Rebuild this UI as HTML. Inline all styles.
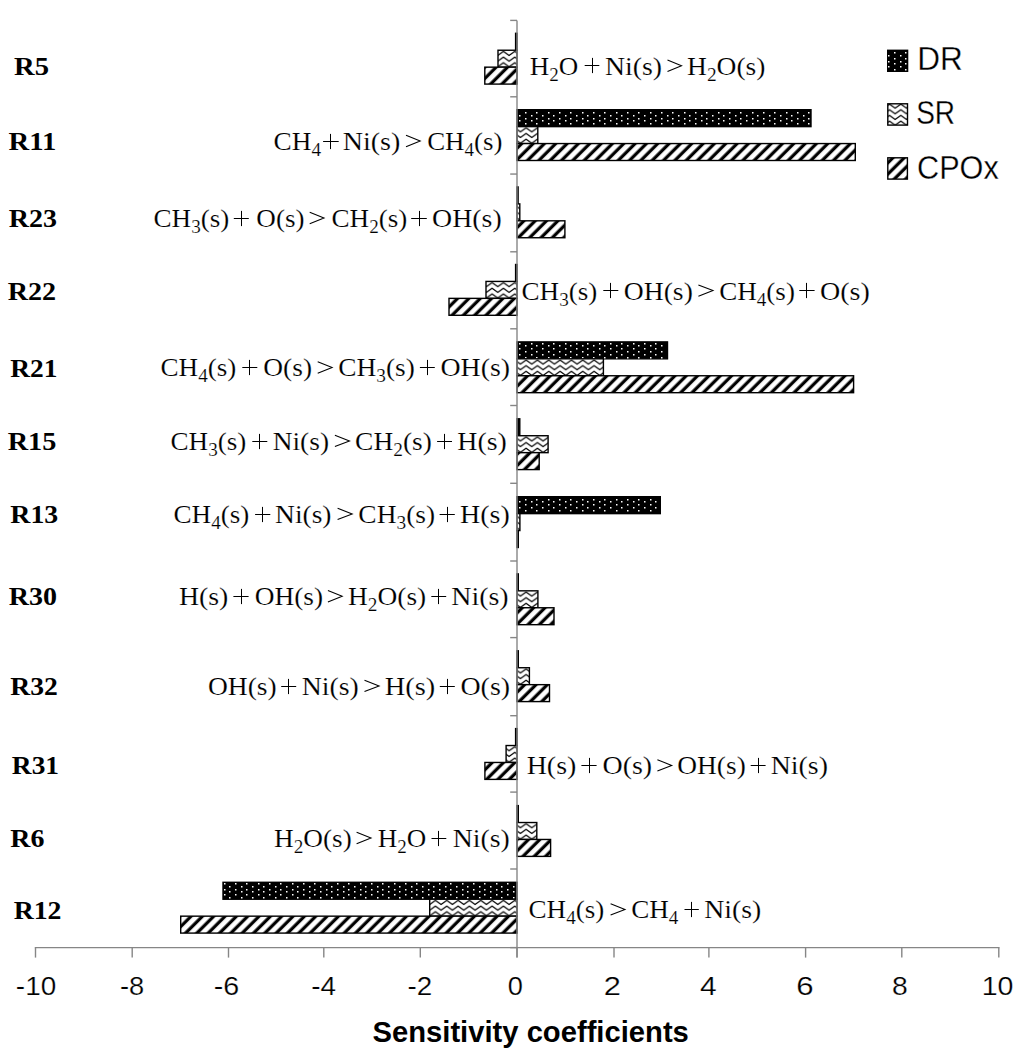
<!DOCTYPE html><html><head><meta charset="utf-8"><style>html,body{margin:0;padding:0;background:#fff;width:1024px;height:1058px;overflow:hidden}svg{display:block}.eq{font-family:"Liberation Serif",serif;font-size:25.5px;fill:#000;stroke:#fff;stroke-width:0.15px}.lb{font-family:"Liberation Serif",serif;font-weight:bold;font-size:25.5px;fill:#000}.tk{font-family:"Liberation Sans",sans-serif;font-size:25.2px;fill:#000;stroke:#fff;stroke-width:0.2px}.tt{font-family:"Liberation Sans",sans-serif;font-weight:bold;font-size:28.6px;fill:#000}.lg{font-family:"Liberation Sans",sans-serif;font-size:33.7px;fill:#000;stroke:#fff;stroke-width:0.3px}</style></head><body><svg width="1024" height="1058" viewBox="0 0 1024 1058"><defs><pattern id="pg" patternUnits="userSpaceOnUse" width="8.0139" height="40" patternTransform="rotate(45)"><rect width="8.0139" height="40" fill="#fff"/><rect x="4.032" width="3.250" height="40" fill="#000"/><rect x="-3.982" width="3.250" height="40" fill="#000"/><rect x="12.046" width="3.250" height="40" fill="#000"/></pattern></defs><rect x="515.60" y="33.30" width="1.40" height="16.93" fill="#000" stroke="#000" stroke-width="1.4"/><pattern id="pz0" patternUnits="userSpaceOnUse" x="-40.565" y="51.230" width="11.3333" height="5.6666"><rect width="11.3333" height="5.6666" fill="#fff"/><polyline points="-0.300,-5.667 5.667,-1.367 11.633,-5.667" fill="none" stroke="#000" stroke-width="1.25" stroke-linejoin="round"/><polyline points="-0.300,0.000 5.667,4.300 11.633,0.000" fill="none" stroke="#000" stroke-width="1.25" stroke-linejoin="round"/><polyline points="-0.300,5.667 5.667,9.967 11.633,5.667" fill="none" stroke="#000" stroke-width="1.25" stroke-linejoin="round"/></pattern><rect x="498.00" y="50.23" width="19.00" height="16.93" fill="url(#pz0)" stroke="#000" stroke-width="1.4"/><rect x="484.80" y="67.16" width="32.20" height="16.93" fill="url(#pg)" stroke="#000" stroke-width="1.4"/><rect x="517.00" y="109.70" width="294.00" height="16.93" fill="#000" stroke="#000" stroke-width="1.4"/><path d="M525 112h1.5v1.5h-1.5zM536 112h1.5v1.5h-1.5zM548 112h1.5v1.5h-1.5zM559 112h1.5v1.5h-1.5zM570 112h1.5v1.5h-1.5zM582 112h1.5v1.5h-1.5zM593 112h1.5v1.5h-1.5zM604 112h1.5v1.5h-1.5zM616 112h1.5v1.5h-1.5zM627 112h1.5v1.5h-1.5zM638 112h1.5v1.5h-1.5zM650 112h1.5v1.5h-1.5zM661 112h1.5v1.5h-1.5zM672 112h1.5v1.5h-1.5zM684 112h1.5v1.5h-1.5zM695 112h1.5v1.5h-1.5zM706 112h1.5v1.5h-1.5zM718 112h1.5v1.5h-1.5zM729 112h1.5v1.5h-1.5zM740 112h1.5v1.5h-1.5zM752 112h1.5v1.5h-1.5zM763 112h1.5v1.5h-1.5zM774 112h1.5v1.5h-1.5zM786 112h1.5v1.5h-1.5zM797 112h1.5v1.5h-1.5zM808 112h1.5v1.5h-1.5zM519 115h1.5v1.5h-1.5zM531 115h1.5v1.5h-1.5zM542 115h1.5v1.5h-1.5zM553 115h1.5v1.5h-1.5zM565 115h1.5v1.5h-1.5zM576 115h1.5v1.5h-1.5zM587 115h1.5v1.5h-1.5zM599 115h1.5v1.5h-1.5zM610 115h1.5v1.5h-1.5zM621 115h1.5v1.5h-1.5zM633 115h1.5v1.5h-1.5zM644 115h1.5v1.5h-1.5zM655 115h1.5v1.5h-1.5zM667 115h1.5v1.5h-1.5zM678 115h1.5v1.5h-1.5zM689 115h1.5v1.5h-1.5zM701 115h1.5v1.5h-1.5zM712 115h1.5v1.5h-1.5zM723 115h1.5v1.5h-1.5zM735 115h1.5v1.5h-1.5zM746 115h1.5v1.5h-1.5zM757 115h1.5v1.5h-1.5zM769 115h1.5v1.5h-1.5zM780 115h1.5v1.5h-1.5zM791 115h1.5v1.5h-1.5zM803 115h1.5v1.5h-1.5zM525 118h1.5v1.5h-1.5zM536 118h1.5v1.5h-1.5zM548 118h1.5v1.5h-1.5zM559 118h1.5v1.5h-1.5zM570 118h1.5v1.5h-1.5zM582 118h1.5v1.5h-1.5zM593 118h1.5v1.5h-1.5zM604 118h1.5v1.5h-1.5zM616 118h1.5v1.5h-1.5zM627 118h1.5v1.5h-1.5zM638 118h1.5v1.5h-1.5zM650 118h1.5v1.5h-1.5zM661 118h1.5v1.5h-1.5zM672 118h1.5v1.5h-1.5zM684 118h1.5v1.5h-1.5zM695 118h1.5v1.5h-1.5zM706 118h1.5v1.5h-1.5zM718 118h1.5v1.5h-1.5zM729 118h1.5v1.5h-1.5zM740 118h1.5v1.5h-1.5zM752 118h1.5v1.5h-1.5zM763 118h1.5v1.5h-1.5zM774 118h1.5v1.5h-1.5zM786 118h1.5v1.5h-1.5zM797 118h1.5v1.5h-1.5zM808 118h1.5v1.5h-1.5zM519 120h1.5v1.5h-1.5zM531 120h1.5v1.5h-1.5zM542 120h1.5v1.5h-1.5zM553 120h1.5v1.5h-1.5zM565 120h1.5v1.5h-1.5zM576 120h1.5v1.5h-1.5zM587 120h1.5v1.5h-1.5zM599 120h1.5v1.5h-1.5zM610 120h1.5v1.5h-1.5zM621 120h1.5v1.5h-1.5zM633 120h1.5v1.5h-1.5zM644 120h1.5v1.5h-1.5zM655 120h1.5v1.5h-1.5zM667 120h1.5v1.5h-1.5zM678 120h1.5v1.5h-1.5zM689 120h1.5v1.5h-1.5zM701 120h1.5v1.5h-1.5zM712 120h1.5v1.5h-1.5zM723 120h1.5v1.5h-1.5zM735 120h1.5v1.5h-1.5zM746 120h1.5v1.5h-1.5zM757 120h1.5v1.5h-1.5zM769 120h1.5v1.5h-1.5zM780 120h1.5v1.5h-1.5zM791 120h1.5v1.5h-1.5zM803 120h1.5v1.5h-1.5zM525 123h1.5v1.5h-1.5zM536 123h1.5v1.5h-1.5zM548 123h1.5v1.5h-1.5zM559 123h1.5v1.5h-1.5zM570 123h1.5v1.5h-1.5zM582 123h1.5v1.5h-1.5zM593 123h1.5v1.5h-1.5zM604 123h1.5v1.5h-1.5zM616 123h1.5v1.5h-1.5zM627 123h1.5v1.5h-1.5zM638 123h1.5v1.5h-1.5zM650 123h1.5v1.5h-1.5zM661 123h1.5v1.5h-1.5zM672 123h1.5v1.5h-1.5zM684 123h1.5v1.5h-1.5zM695 123h1.5v1.5h-1.5zM706 123h1.5v1.5h-1.5zM718 123h1.5v1.5h-1.5zM729 123h1.5v1.5h-1.5zM740 123h1.5v1.5h-1.5zM752 123h1.5v1.5h-1.5zM763 123h1.5v1.5h-1.5zM774 123h1.5v1.5h-1.5zM786 123h1.5v1.5h-1.5zM797 123h1.5v1.5h-1.5zM808 123h1.5v1.5h-1.5z" fill="#fff"/><pattern id="pz1" patternUnits="userSpaceOnUse" x="-40.565" y="127.630" width="11.3333" height="5.6666"><rect width="11.3333" height="5.6666" fill="#fff"/><polyline points="-0.300,-5.667 5.667,-1.367 11.633,-5.667" fill="none" stroke="#000" stroke-width="1.25" stroke-linejoin="round"/><polyline points="-0.300,0.000 5.667,4.300 11.633,0.000" fill="none" stroke="#000" stroke-width="1.25" stroke-linejoin="round"/><polyline points="-0.300,5.667 5.667,9.967 11.633,5.667" fill="none" stroke="#000" stroke-width="1.25" stroke-linejoin="round"/></pattern><rect x="517.00" y="126.63" width="20.80" height="16.93" fill="url(#pz1)" stroke="#000" stroke-width="1.4"/><rect x="517.00" y="143.56" width="338.30" height="16.93" fill="url(#pg)" stroke="#000" stroke-width="1.4"/><rect x="517.00" y="186.95" width="1.10" height="16.93" fill="#000" stroke="#000" stroke-width="1.4"/><pattern id="pz2" patternUnits="userSpaceOnUse" x="-40.565" y="204.880" width="11.3333" height="5.6666"><rect width="11.3333" height="5.6666" fill="#fff"/><polyline points="-0.300,-5.667 5.667,-1.367 11.633,-5.667" fill="none" stroke="#000" stroke-width="1.25" stroke-linejoin="round"/><polyline points="-0.300,0.000 5.667,4.300 11.633,0.000" fill="none" stroke="#000" stroke-width="1.25" stroke-linejoin="round"/><polyline points="-0.300,5.667 5.667,9.967 11.633,5.667" fill="none" stroke="#000" stroke-width="1.25" stroke-linejoin="round"/></pattern><rect x="517.00" y="203.88" width="2.80" height="16.93" fill="url(#pz2)" stroke="#000" stroke-width="1.4"/><rect x="517.00" y="220.81" width="47.90" height="16.93" fill="url(#pg)" stroke="#000" stroke-width="1.4"/><rect x="515.60" y="264.50" width="1.40" height="16.93" fill="#000" stroke="#000" stroke-width="1.4"/><pattern id="pz3" patternUnits="userSpaceOnUse" x="-40.565" y="282.430" width="11.3333" height="5.6666"><rect width="11.3333" height="5.6666" fill="#fff"/><polyline points="-0.300,-5.667 5.667,-1.367 11.633,-5.667" fill="none" stroke="#000" stroke-width="1.25" stroke-linejoin="round"/><polyline points="-0.300,0.000 5.667,4.300 11.633,0.000" fill="none" stroke="#000" stroke-width="1.25" stroke-linejoin="round"/><polyline points="-0.300,5.667 5.667,9.967 11.633,5.667" fill="none" stroke="#000" stroke-width="1.25" stroke-linejoin="round"/></pattern><rect x="486.00" y="281.43" width="31.00" height="16.93" fill="url(#pz3)" stroke="#000" stroke-width="1.4"/><rect x="449.00" y="298.36" width="68.00" height="16.93" fill="url(#pg)" stroke="#000" stroke-width="1.4"/><rect x="517.00" y="341.90" width="150.50" height="16.93" fill="#000" stroke="#000" stroke-width="1.4"/><path d="M519 343h1.5v1.5h-1.5zM531 343h1.5v1.5h-1.5zM542 343h1.5v1.5h-1.5zM553 343h1.5v1.5h-1.5zM565 343h1.5v1.5h-1.5zM576 343h1.5v1.5h-1.5zM587 343h1.5v1.5h-1.5zM599 343h1.5v1.5h-1.5zM610 343h1.5v1.5h-1.5zM621 343h1.5v1.5h-1.5zM633 343h1.5v1.5h-1.5zM644 343h1.5v1.5h-1.5zM655 343h1.5v1.5h-1.5zM525 345h1.5v1.5h-1.5zM536 345h1.5v1.5h-1.5zM548 345h1.5v1.5h-1.5zM559 345h1.5v1.5h-1.5zM570 345h1.5v1.5h-1.5zM582 345h1.5v1.5h-1.5zM593 345h1.5v1.5h-1.5zM604 345h1.5v1.5h-1.5zM616 345h1.5v1.5h-1.5zM627 345h1.5v1.5h-1.5zM638 345h1.5v1.5h-1.5zM650 345h1.5v1.5h-1.5zM661 345h1.5v1.5h-1.5zM519 348h1.5v1.5h-1.5zM531 348h1.5v1.5h-1.5zM542 348h1.5v1.5h-1.5zM553 348h1.5v1.5h-1.5zM565 348h1.5v1.5h-1.5zM576 348h1.5v1.5h-1.5zM587 348h1.5v1.5h-1.5zM599 348h1.5v1.5h-1.5zM610 348h1.5v1.5h-1.5zM621 348h1.5v1.5h-1.5zM633 348h1.5v1.5h-1.5zM644 348h1.5v1.5h-1.5zM655 348h1.5v1.5h-1.5zM525 351h1.5v1.5h-1.5zM536 351h1.5v1.5h-1.5zM548 351h1.5v1.5h-1.5zM559 351h1.5v1.5h-1.5zM570 351h1.5v1.5h-1.5zM582 351h1.5v1.5h-1.5zM593 351h1.5v1.5h-1.5zM604 351h1.5v1.5h-1.5zM616 351h1.5v1.5h-1.5zM627 351h1.5v1.5h-1.5zM638 351h1.5v1.5h-1.5zM650 351h1.5v1.5h-1.5zM661 351h1.5v1.5h-1.5zM519 354h1.5v1.5h-1.5zM531 354h1.5v1.5h-1.5zM542 354h1.5v1.5h-1.5zM553 354h1.5v1.5h-1.5zM565 354h1.5v1.5h-1.5zM576 354h1.5v1.5h-1.5zM587 354h1.5v1.5h-1.5zM599 354h1.5v1.5h-1.5zM610 354h1.5v1.5h-1.5zM621 354h1.5v1.5h-1.5zM633 354h1.5v1.5h-1.5zM644 354h1.5v1.5h-1.5zM655 354h1.5v1.5h-1.5zM525 357h1.5v1.5h-1.5zM536 357h1.5v1.5h-1.5zM548 357h1.5v1.5h-1.5zM559 357h1.5v1.5h-1.5zM570 357h1.5v1.5h-1.5zM582 357h1.5v1.5h-1.5zM593 357h1.5v1.5h-1.5zM604 357h1.5v1.5h-1.5zM616 357h1.5v1.5h-1.5zM627 357h1.5v1.5h-1.5zM638 357h1.5v1.5h-1.5zM650 357h1.5v1.5h-1.5zM661 357h1.5v1.5h-1.5z" fill="#fff"/><pattern id="pz4" patternUnits="userSpaceOnUse" x="-40.565" y="359.830" width="11.3333" height="5.6666"><rect width="11.3333" height="5.6666" fill="#fff"/><polyline points="-0.300,-5.667 5.667,-1.367 11.633,-5.667" fill="none" stroke="#000" stroke-width="1.25" stroke-linejoin="round"/><polyline points="-0.300,0.000 5.667,4.300 11.633,0.000" fill="none" stroke="#000" stroke-width="1.25" stroke-linejoin="round"/><polyline points="-0.300,5.667 5.667,9.967 11.633,5.667" fill="none" stroke="#000" stroke-width="1.25" stroke-linejoin="round"/></pattern><rect x="517.00" y="358.83" width="86.40" height="16.93" fill="url(#pz4)" stroke="#000" stroke-width="1.4"/><rect x="517.00" y="375.76" width="336.60" height="16.93" fill="url(#pg)" stroke="#000" stroke-width="1.4"/><rect x="517.00" y="418.80" width="2.80" height="16.93" fill="#000" stroke="#000" stroke-width="1.4"/><pattern id="pz5" patternUnits="userSpaceOnUse" x="-40.565" y="436.730" width="11.3333" height="5.6666"><rect width="11.3333" height="5.6666" fill="#fff"/><polyline points="-0.300,-5.667 5.667,-1.367 11.633,-5.667" fill="none" stroke="#000" stroke-width="1.25" stroke-linejoin="round"/><polyline points="-0.300,0.000 5.667,4.300 11.633,0.000" fill="none" stroke="#000" stroke-width="1.25" stroke-linejoin="round"/><polyline points="-0.300,5.667 5.667,9.967 11.633,5.667" fill="none" stroke="#000" stroke-width="1.25" stroke-linejoin="round"/></pattern><rect x="517.00" y="435.73" width="31.10" height="16.93" fill="url(#pz5)" stroke="#000" stroke-width="1.4"/><rect x="517.00" y="452.66" width="22.20" height="16.93" fill="url(#pg)" stroke="#000" stroke-width="1.4"/><rect x="517.00" y="496.70" width="143.30" height="16.93" fill="#000" stroke="#000" stroke-width="1.4"/><path d="M525 499h1.5v1.5h-1.5zM536 499h1.5v1.5h-1.5zM548 499h1.5v1.5h-1.5zM559 499h1.5v1.5h-1.5zM570 499h1.5v1.5h-1.5zM582 499h1.5v1.5h-1.5zM593 499h1.5v1.5h-1.5zM604 499h1.5v1.5h-1.5zM616 499h1.5v1.5h-1.5zM627 499h1.5v1.5h-1.5zM638 499h1.5v1.5h-1.5zM650 499h1.5v1.5h-1.5zM519 501h1.5v1.5h-1.5zM531 501h1.5v1.5h-1.5zM542 501h1.5v1.5h-1.5zM553 501h1.5v1.5h-1.5zM565 501h1.5v1.5h-1.5zM576 501h1.5v1.5h-1.5zM587 501h1.5v1.5h-1.5zM599 501h1.5v1.5h-1.5zM610 501h1.5v1.5h-1.5zM621 501h1.5v1.5h-1.5zM633 501h1.5v1.5h-1.5zM644 501h1.5v1.5h-1.5zM655 501h1.5v1.5h-1.5zM525 504h1.5v1.5h-1.5zM536 504h1.5v1.5h-1.5zM548 504h1.5v1.5h-1.5zM559 504h1.5v1.5h-1.5zM570 504h1.5v1.5h-1.5zM582 504h1.5v1.5h-1.5zM593 504h1.5v1.5h-1.5zM604 504h1.5v1.5h-1.5zM616 504h1.5v1.5h-1.5zM627 504h1.5v1.5h-1.5zM638 504h1.5v1.5h-1.5zM650 504h1.5v1.5h-1.5zM519 507h1.5v1.5h-1.5zM531 507h1.5v1.5h-1.5zM542 507h1.5v1.5h-1.5zM553 507h1.5v1.5h-1.5zM565 507h1.5v1.5h-1.5zM576 507h1.5v1.5h-1.5zM587 507h1.5v1.5h-1.5zM599 507h1.5v1.5h-1.5zM610 507h1.5v1.5h-1.5zM621 507h1.5v1.5h-1.5zM633 507h1.5v1.5h-1.5zM644 507h1.5v1.5h-1.5zM655 507h1.5v1.5h-1.5zM525 510h1.5v1.5h-1.5zM536 510h1.5v1.5h-1.5zM548 510h1.5v1.5h-1.5zM559 510h1.5v1.5h-1.5zM570 510h1.5v1.5h-1.5zM582 510h1.5v1.5h-1.5zM593 510h1.5v1.5h-1.5zM604 510h1.5v1.5h-1.5zM616 510h1.5v1.5h-1.5zM627 510h1.5v1.5h-1.5zM638 510h1.5v1.5h-1.5zM650 510h1.5v1.5h-1.5z" fill="#fff"/><pattern id="pz6" patternUnits="userSpaceOnUse" x="-40.565" y="514.630" width="11.3333" height="5.6666"><rect width="11.3333" height="5.6666" fill="#fff"/><polyline points="-0.300,-5.667 5.667,-1.367 11.633,-5.667" fill="none" stroke="#000" stroke-width="1.25" stroke-linejoin="round"/><polyline points="-0.300,0.000 5.667,4.300 11.633,0.000" fill="none" stroke="#000" stroke-width="1.25" stroke-linejoin="round"/><polyline points="-0.300,5.667 5.667,9.967 11.633,5.667" fill="none" stroke="#000" stroke-width="1.25" stroke-linejoin="round"/></pattern><rect x="517.00" y="513.63" width="2.90" height="16.93" fill="url(#pz6)" stroke="#000" stroke-width="1.4"/><rect x="517.00" y="530.56" width="1.30" height="16.93" fill="url(#pg)" stroke="#000" stroke-width="1.4"/><rect x="517.00" y="573.90" width="1.30" height="16.93" fill="#000" stroke="#000" stroke-width="1.4"/><pattern id="pz7" patternUnits="userSpaceOnUse" x="-40.565" y="591.830" width="11.3333" height="5.6666"><rect width="11.3333" height="5.6666" fill="#fff"/><polyline points="-0.300,-5.667 5.667,-1.367 11.633,-5.667" fill="none" stroke="#000" stroke-width="1.25" stroke-linejoin="round"/><polyline points="-0.300,0.000 5.667,4.300 11.633,0.000" fill="none" stroke="#000" stroke-width="1.25" stroke-linejoin="round"/><polyline points="-0.300,5.667 5.667,9.967 11.633,5.667" fill="none" stroke="#000" stroke-width="1.25" stroke-linejoin="round"/></pattern><rect x="517.00" y="590.83" width="20.90" height="16.93" fill="url(#pz7)" stroke="#000" stroke-width="1.4"/><rect x="517.00" y="607.76" width="37.00" height="16.93" fill="url(#pg)" stroke="#000" stroke-width="1.4"/><rect x="517.00" y="650.80" width="1.30" height="16.93" fill="#000" stroke="#000" stroke-width="1.4"/><pattern id="pz8" patternUnits="userSpaceOnUse" x="-40.565" y="668.730" width="11.3333" height="5.6666"><rect width="11.3333" height="5.6666" fill="#fff"/><polyline points="-0.300,-5.667 5.667,-1.367 11.633,-5.667" fill="none" stroke="#000" stroke-width="1.25" stroke-linejoin="round"/><polyline points="-0.300,0.000 5.667,4.300 11.633,0.000" fill="none" stroke="#000" stroke-width="1.25" stroke-linejoin="round"/><polyline points="-0.300,5.667 5.667,9.967 11.633,5.667" fill="none" stroke="#000" stroke-width="1.25" stroke-linejoin="round"/></pattern><rect x="517.00" y="667.73" width="12.40" height="16.93" fill="url(#pz8)" stroke="#000" stroke-width="1.4"/><rect x="517.00" y="684.66" width="32.50" height="16.93" fill="url(#pg)" stroke="#000" stroke-width="1.4"/><rect x="515.60" y="728.60" width="1.40" height="16.93" fill="#000" stroke="#000" stroke-width="1.4"/><pattern id="pz9" patternUnits="userSpaceOnUse" x="-40.565" y="746.530" width="11.3333" height="5.6666"><rect width="11.3333" height="5.6666" fill="#fff"/><polyline points="-0.300,-5.667 5.667,-1.367 11.633,-5.667" fill="none" stroke="#000" stroke-width="1.25" stroke-linejoin="round"/><polyline points="-0.300,0.000 5.667,4.300 11.633,0.000" fill="none" stroke="#000" stroke-width="1.25" stroke-linejoin="round"/><polyline points="-0.300,5.667 5.667,9.967 11.633,5.667" fill="none" stroke="#000" stroke-width="1.25" stroke-linejoin="round"/></pattern><rect x="506.10" y="745.53" width="10.90" height="16.93" fill="url(#pz9)" stroke="#000" stroke-width="1.4"/><rect x="484.90" y="762.46" width="32.10" height="16.93" fill="url(#pg)" stroke="#000" stroke-width="1.4"/><rect x="517.00" y="805.60" width="1.30" height="16.93" fill="#000" stroke="#000" stroke-width="1.4"/><pattern id="pz10" patternUnits="userSpaceOnUse" x="-40.565" y="823.530" width="11.3333" height="5.6666"><rect width="11.3333" height="5.6666" fill="#fff"/><polyline points="-0.300,-5.667 5.667,-1.367 11.633,-5.667" fill="none" stroke="#000" stroke-width="1.25" stroke-linejoin="round"/><polyline points="-0.300,0.000 5.667,4.300 11.633,0.000" fill="none" stroke="#000" stroke-width="1.25" stroke-linejoin="round"/><polyline points="-0.300,5.667 5.667,9.967 11.633,5.667" fill="none" stroke="#000" stroke-width="1.25" stroke-linejoin="round"/></pattern><rect x="517.00" y="822.53" width="19.80" height="16.93" fill="url(#pz10)" stroke="#000" stroke-width="1.4"/><rect x="517.00" y="839.46" width="33.60" height="16.93" fill="url(#pg)" stroke="#000" stroke-width="1.4"/><rect x="223.00" y="882.30" width="294.00" height="16.93" fill="#000" stroke="#000" stroke-width="1.4"/><path d="M224 883h1.5v1.5h-1.5zM235 883h1.5v1.5h-1.5zM246 883h1.5v1.5h-1.5zM258 883h1.5v1.5h-1.5zM269 883h1.5v1.5h-1.5zM280 883h1.5v1.5h-1.5zM292 883h1.5v1.5h-1.5zM303 883h1.5v1.5h-1.5zM314 883h1.5v1.5h-1.5zM326 883h1.5v1.5h-1.5zM337 883h1.5v1.5h-1.5zM348 883h1.5v1.5h-1.5zM360 883h1.5v1.5h-1.5zM371 883h1.5v1.5h-1.5zM382 883h1.5v1.5h-1.5zM394 883h1.5v1.5h-1.5zM405 883h1.5v1.5h-1.5zM416 883h1.5v1.5h-1.5zM428 883h1.5v1.5h-1.5zM439 883h1.5v1.5h-1.5zM450 883h1.5v1.5h-1.5zM462 883h1.5v1.5h-1.5zM473 883h1.5v1.5h-1.5zM484 883h1.5v1.5h-1.5zM496 883h1.5v1.5h-1.5zM507 883h1.5v1.5h-1.5zM229 886h1.5v1.5h-1.5zM241 886h1.5v1.5h-1.5zM252 886h1.5v1.5h-1.5zM263 886h1.5v1.5h-1.5zM275 886h1.5v1.5h-1.5zM286 886h1.5v1.5h-1.5zM297 886h1.5v1.5h-1.5zM309 886h1.5v1.5h-1.5zM320 886h1.5v1.5h-1.5zM331 886h1.5v1.5h-1.5zM343 886h1.5v1.5h-1.5zM354 886h1.5v1.5h-1.5zM365 886h1.5v1.5h-1.5zM377 886h1.5v1.5h-1.5zM388 886h1.5v1.5h-1.5zM399 886h1.5v1.5h-1.5zM411 886h1.5v1.5h-1.5zM422 886h1.5v1.5h-1.5zM433 886h1.5v1.5h-1.5zM445 886h1.5v1.5h-1.5zM456 886h1.5v1.5h-1.5zM467 886h1.5v1.5h-1.5zM479 886h1.5v1.5h-1.5zM490 886h1.5v1.5h-1.5zM501 886h1.5v1.5h-1.5zM513 886h1.5v1.5h-1.5zM224 889h1.5v1.5h-1.5zM235 889h1.5v1.5h-1.5zM246 889h1.5v1.5h-1.5zM258 889h1.5v1.5h-1.5zM269 889h1.5v1.5h-1.5zM280 889h1.5v1.5h-1.5zM292 889h1.5v1.5h-1.5zM303 889h1.5v1.5h-1.5zM314 889h1.5v1.5h-1.5zM326 889h1.5v1.5h-1.5zM337 889h1.5v1.5h-1.5zM348 889h1.5v1.5h-1.5zM360 889h1.5v1.5h-1.5zM371 889h1.5v1.5h-1.5zM382 889h1.5v1.5h-1.5zM394 889h1.5v1.5h-1.5zM405 889h1.5v1.5h-1.5zM416 889h1.5v1.5h-1.5zM428 889h1.5v1.5h-1.5zM439 889h1.5v1.5h-1.5zM450 889h1.5v1.5h-1.5zM462 889h1.5v1.5h-1.5zM473 889h1.5v1.5h-1.5zM484 889h1.5v1.5h-1.5zM496 889h1.5v1.5h-1.5zM507 889h1.5v1.5h-1.5zM229 891h1.5v1.5h-1.5zM241 891h1.5v1.5h-1.5zM252 891h1.5v1.5h-1.5zM263 891h1.5v1.5h-1.5zM275 891h1.5v1.5h-1.5zM286 891h1.5v1.5h-1.5zM297 891h1.5v1.5h-1.5zM309 891h1.5v1.5h-1.5zM320 891h1.5v1.5h-1.5zM331 891h1.5v1.5h-1.5zM343 891h1.5v1.5h-1.5zM354 891h1.5v1.5h-1.5zM365 891h1.5v1.5h-1.5zM377 891h1.5v1.5h-1.5zM388 891h1.5v1.5h-1.5zM399 891h1.5v1.5h-1.5zM411 891h1.5v1.5h-1.5zM422 891h1.5v1.5h-1.5zM433 891h1.5v1.5h-1.5zM445 891h1.5v1.5h-1.5zM456 891h1.5v1.5h-1.5zM467 891h1.5v1.5h-1.5zM479 891h1.5v1.5h-1.5zM490 891h1.5v1.5h-1.5zM501 891h1.5v1.5h-1.5zM513 891h1.5v1.5h-1.5zM224 894h1.5v1.5h-1.5zM235 894h1.5v1.5h-1.5zM246 894h1.5v1.5h-1.5zM258 894h1.5v1.5h-1.5zM269 894h1.5v1.5h-1.5zM280 894h1.5v1.5h-1.5zM292 894h1.5v1.5h-1.5zM303 894h1.5v1.5h-1.5zM314 894h1.5v1.5h-1.5zM326 894h1.5v1.5h-1.5zM337 894h1.5v1.5h-1.5zM348 894h1.5v1.5h-1.5zM360 894h1.5v1.5h-1.5zM371 894h1.5v1.5h-1.5zM382 894h1.5v1.5h-1.5zM394 894h1.5v1.5h-1.5zM405 894h1.5v1.5h-1.5zM416 894h1.5v1.5h-1.5zM428 894h1.5v1.5h-1.5zM439 894h1.5v1.5h-1.5zM450 894h1.5v1.5h-1.5zM462 894h1.5v1.5h-1.5zM473 894h1.5v1.5h-1.5zM484 894h1.5v1.5h-1.5zM496 894h1.5v1.5h-1.5zM507 894h1.5v1.5h-1.5zM229 897h1.5v1.5h-1.5zM241 897h1.5v1.5h-1.5zM252 897h1.5v1.5h-1.5zM263 897h1.5v1.5h-1.5zM275 897h1.5v1.5h-1.5zM286 897h1.5v1.5h-1.5zM297 897h1.5v1.5h-1.5zM309 897h1.5v1.5h-1.5zM320 897h1.5v1.5h-1.5zM331 897h1.5v1.5h-1.5zM343 897h1.5v1.5h-1.5zM354 897h1.5v1.5h-1.5zM365 897h1.5v1.5h-1.5zM377 897h1.5v1.5h-1.5zM388 897h1.5v1.5h-1.5zM399 897h1.5v1.5h-1.5zM411 897h1.5v1.5h-1.5zM422 897h1.5v1.5h-1.5zM433 897h1.5v1.5h-1.5zM445 897h1.5v1.5h-1.5zM456 897h1.5v1.5h-1.5zM467 897h1.5v1.5h-1.5zM479 897h1.5v1.5h-1.5zM490 897h1.5v1.5h-1.5zM501 897h1.5v1.5h-1.5zM513 897h1.5v1.5h-1.5z" fill="#fff"/><pattern id="pz11" patternUnits="userSpaceOnUse" x="-40.565" y="900.230" width="11.3333" height="5.6666"><rect width="11.3333" height="5.6666" fill="#fff"/><polyline points="-0.300,-5.667 5.667,-1.367 11.633,-5.667" fill="none" stroke="#000" stroke-width="1.25" stroke-linejoin="round"/><polyline points="-0.300,0.000 5.667,4.300 11.633,0.000" fill="none" stroke="#000" stroke-width="1.25" stroke-linejoin="round"/><polyline points="-0.300,5.667 5.667,9.967 11.633,5.667" fill="none" stroke="#000" stroke-width="1.25" stroke-linejoin="round"/></pattern><rect x="429.70" y="899.23" width="87.30" height="16.93" fill="url(#pz11)" stroke="#000" stroke-width="1.4"/><rect x="180.70" y="916.16" width="336.30" height="16.93" fill="url(#pg)" stroke="#000" stroke-width="1.4"/><line x1="517.00" y1="20.4" x2="517.00" y2="957.6" stroke="#868686" stroke-width="1.4"/><line x1="34.80" y1="947.6" x2="999.50" y2="947.6" stroke="#868686" stroke-width="1.4"/><line x1="510.2" y1="20.40" x2="517.00" y2="20.40" stroke="#868686" stroke-width="1.4"/><line x1="510.2" y1="96.80" x2="517.00" y2="96.80" stroke="#868686" stroke-width="1.4"/><line x1="510.2" y1="174.06" x2="517.00" y2="174.06" stroke="#868686" stroke-width="1.4"/><line x1="510.2" y1="251.80" x2="517.00" y2="251.80" stroke="#868686" stroke-width="1.4"/><line x1="510.2" y1="328.80" x2="517.00" y2="328.80" stroke="#868686" stroke-width="1.4"/><line x1="510.2" y1="405.50" x2="517.00" y2="405.50" stroke="#868686" stroke-width="1.4"/><line x1="510.2" y1="483.30" x2="517.00" y2="483.30" stroke="#868686" stroke-width="1.4"/><line x1="510.2" y1="561.00" x2="517.00" y2="561.00" stroke="#868686" stroke-width="1.4"/><line x1="510.2" y1="637.60" x2="517.00" y2="637.60" stroke="#868686" stroke-width="1.4"/><line x1="510.2" y1="715.70" x2="517.00" y2="715.70" stroke="#868686" stroke-width="1.4"/><line x1="510.2" y1="792.10" x2="517.00" y2="792.10" stroke="#868686" stroke-width="1.4"/><line x1="510.2" y1="869.00" x2="517.00" y2="869.00" stroke="#868686" stroke-width="1.4"/><line x1="510.2" y1="947.60" x2="517.00" y2="947.60" stroke="#868686" stroke-width="1.4"/><line x1="35.50" y1="947.6" x2="35.50" y2="957.6" stroke="#868686" stroke-width="1.4"/><line x1="132.20" y1="947.6" x2="132.20" y2="957.6" stroke="#868686" stroke-width="1.4"/><line x1="228.50" y1="947.6" x2="228.50" y2="957.6" stroke="#868686" stroke-width="1.4"/><line x1="323.80" y1="947.6" x2="323.80" y2="957.6" stroke="#868686" stroke-width="1.4"/><line x1="420.30" y1="947.6" x2="420.30" y2="957.6" stroke="#868686" stroke-width="1.4"/><line x1="517.00" y1="947.6" x2="517.00" y2="957.6" stroke="#868686" stroke-width="1.4"/><line x1="614.00" y1="947.6" x2="614.00" y2="957.6" stroke="#868686" stroke-width="1.4"/><line x1="708.90" y1="947.6" x2="708.90" y2="957.6" stroke="#868686" stroke-width="1.4"/><line x1="805.60" y1="947.6" x2="805.60" y2="957.6" stroke="#868686" stroke-width="1.4"/><line x1="901.80" y1="947.6" x2="901.80" y2="957.6" stroke="#868686" stroke-width="1.4"/><line x1="998.80" y1="947.6" x2="998.80" y2="957.6" stroke="#868686" stroke-width="1.4"/><rect x="887.70" y="50.30" width="19.90" height="21.00" fill="#000" stroke="#000" stroke-width="1.4"/><path d="M894 52h1.5v1.5h-1.5zM905 52h1.5v1.5h-1.5zM888 55h1.5v1.5h-1.5zM900 55h1.5v1.5h-1.5zM894 58h1.5v1.5h-1.5zM905 58h1.5v1.5h-1.5zM888 61h1.5v1.5h-1.5zM900 61h1.5v1.5h-1.5zM894 63h1.5v1.5h-1.5zM905 63h1.5v1.5h-1.5zM888 66h1.5v1.5h-1.5zM900 66h1.5v1.5h-1.5zM894 69h1.5v1.5h-1.5zM905 69h1.5v1.5h-1.5z" fill="#fff"/><pattern id="pzl" patternUnits="userSpaceOnUse" x="889.500" y="103.900" width="11.3333" height="5.6666"><rect width="11.3333" height="5.6666" fill="#fff"/><polyline points="-0.300,-5.667 5.667,-1.367 11.633,-5.667" fill="none" stroke="#000" stroke-width="1.25" stroke-linejoin="round"/><polyline points="-0.300,0.000 5.667,4.300 11.633,0.000" fill="none" stroke="#000" stroke-width="1.25" stroke-linejoin="round"/><polyline points="-0.300,5.667 5.667,9.967 11.633,5.667" fill="none" stroke="#000" stroke-width="1.25" stroke-linejoin="round"/></pattern><rect x="887.80" y="103.80" width="19.70" height="21.30" fill="url(#pzl)" stroke="#000" stroke-width="1.4"/><rect x="887.80" y="157.80" width="19.60" height="21.30" fill="url(#pg)" stroke="#000" stroke-width="1.4"/><path d="M584.70 65.50H599.30M592.50 57.90V73.10" stroke="#000" stroke-width="1" fill="none"/><path d="M667.50 60.00L681.50 65.70L667.50 71.40" stroke="#000" stroke-width="1.05" fill="none" stroke-linejoin="miter"/><path d="M323.10 141.50H338.70M330.50 133.90V149.10" stroke="#000" stroke-width="1" fill="none"/><path d="M406.00 135.30L420.20 141.00L406.00 146.70" stroke="#000" stroke-width="1.05" fill="none" stroke-linejoin="miter"/><path d="M233.80 218.50H248.80M241.50 210.90V226.10" stroke="#000" stroke-width="1" fill="none"/><path d="M309.70 212.30L324.00 218.00L309.70 223.70" stroke="#000" stroke-width="1.05" fill="none" stroke-linejoin="miter"/><path d="M411.20 218.50H426.80M419.50 210.90V226.10" stroke="#000" stroke-width="1" fill="none"/><path d="M603.30 290.50H618.30M610.50 282.90V298.10" stroke="#000" stroke-width="1" fill="none"/><path d="M698.40 284.90L713.00 290.60L698.40 296.30" stroke="#000" stroke-width="1.05" fill="none" stroke-linejoin="miter"/><path d="M799.30 290.50H814.60M806.50 282.90V298.10" stroke="#000" stroke-width="1" fill="none"/><path d="M242.30 367.50H257.30M249.50 359.90V375.10" stroke="#000" stroke-width="1" fill="none"/><path d="M317.70 361.80L332.10 367.50L317.70 373.20" stroke="#000" stroke-width="1.05" fill="none" stroke-linejoin="miter"/><path d="M419.90 367.50H434.80M427.50 359.90V375.10" stroke="#000" stroke-width="1" fill="none"/><path d="M252.30 441.50H267.30M259.50 433.90V449.10" stroke="#000" stroke-width="1" fill="none"/><path d="M334.90 435.20L349.50 440.90L334.90 446.60" stroke="#000" stroke-width="1.05" fill="none" stroke-linejoin="miter"/><path d="M437.10 441.50H452.00M444.50 433.90V449.10" stroke="#000" stroke-width="1" fill="none"/><path d="M255.10 514.50H270.30M262.50 506.90V522.10" stroke="#000" stroke-width="1" fill="none"/><path d="M337.60 508.20L352.20 513.90L337.60 519.60" stroke="#000" stroke-width="1.05" fill="none" stroke-linejoin="miter"/><path d="M439.60 514.50H454.80M447.50 506.90V522.10" stroke="#000" stroke-width="1" fill="none"/><path d="M233.40 596.50H248.60M241.50 588.90V604.10" stroke="#000" stroke-width="1" fill="none"/><path d="M327.90 590.50L342.20 596.20L327.90 601.90" stroke="#000" stroke-width="1.05" fill="none" stroke-linejoin="miter"/><path d="M431.30 596.50H446.20M438.50 588.90V604.10" stroke="#000" stroke-width="1" fill="none"/><path d="M281.20 686.50H296.20M288.50 678.90V694.10" stroke="#000" stroke-width="1" fill="none"/><path d="M364.50 680.20L379.10 685.90L364.50 691.60" stroke="#000" stroke-width="1.05" fill="none" stroke-linejoin="miter"/><path d="M439.80 686.50H454.80M447.50 678.90V694.10" stroke="#000" stroke-width="1" fill="none"/><path d="M581.40 765.50H596.60M589.50 757.90V773.10" stroke="#000" stroke-width="1" fill="none"/><path d="M657.40 759.70L671.70 765.40L657.40 771.10" stroke="#000" stroke-width="1.05" fill="none" stroke-linejoin="miter"/><path d="M750.70 765.50H765.60M758.50 757.90V773.10" stroke="#000" stroke-width="1" fill="none"/><path d="M356.60 832.30L371.00 838.00L356.60 843.70" stroke="#000" stroke-width="1.05" fill="none" stroke-linejoin="miter"/><path d="M431.50 838.50H446.30M438.50 830.90V846.10" stroke="#000" stroke-width="1" fill="none"/><path d="M610.60 903.70L625.00 909.40L610.60 915.10" stroke="#000" stroke-width="1.05" fill="none" stroke-linejoin="miter"/><path d="M684.50 909.50H698.80M691.50 901.90V917.10" stroke="#000" stroke-width="1" fill="none"/><text id="lb_R5" class="lb" transform="translate(14.05 74.90) scale(1.1238 1)">R5</text><text id="lb_R11" class="lb" transform="translate(8.62 150.20) scale(1.1240 1)">R11</text><text id="lb_R23" class="lb" transform="translate(8.69 226.90) scale(1.0993 1)">R23</text><text id="lb_R22" class="lb" transform="translate(7.66 299.50) scale(1.1022 1)">R22</text><text id="lb_R21" class="lb" transform="translate(10.30 376.60) scale(1.0746 1)">R21</text><text id="lb_R15" class="lb" transform="translate(7.65 450.00) scale(1.1080 1)">R15</text><text id="lb_R13" class="lb" transform="translate(10.29 522.80) scale(1.0923 1)">R13</text><text id="lb_R30" class="lb" transform="translate(8.87 605.30) scale(1.0991 1)">R30</text><text id="lb_R32" class="lb" transform="translate(10.29 695.00) scale(1.0836 1)">R32</text><text id="lb_R31" class="lb" transform="translate(11.87 774.40) scale(1.0750 1)">R31</text><text id="lb_R6" class="lb" transform="translate(10.29 847.00) scale(1.0942 1)">R6</text><text id="lb_R12" class="lb" transform="translate(13.66 918.50) scale(1.0904 1)">R12</text><text id="eq_0_0" class="eq" transform="translate(529.72 74.60) scale(1.0590 1)"><tspan>H</tspan><tspan font-size="18" dy="6">2</tspan><tspan dy="-6">O</tspan></text><text id="eq_0_2" class="eq" transform="translate(605.03 74.60) scale(1.0902 1)"><tspan>Ni(s)</tspan></text><text id="eq_0_4" class="eq" transform="translate(687.05 74.60) scale(1.0783 1)"><tspan>H</tspan><tspan font-size="18" dy="6">2</tspan><tspan dy="-6">O(s)</tspan></text><text id="eq_1_0" class="eq" transform="translate(273.46 149.90) scale(1.0709 1)"><tspan>CH</tspan><tspan font-size="18" dy="6">4</tspan></text><text id="eq_1_2" class="eq" transform="translate(342.68 149.90) scale(1.1010 1)"><tspan>Ni(s)</tspan></text><text id="eq_1_4" class="eq" transform="translate(427.16 149.90) scale(1.0564 1)"><tspan>CH</tspan><tspan font-size="18" dy="6">4</tspan><tspan dy="-6">(s)</tspan></text><text id="eq_2_0" class="eq" transform="translate(153.47 226.90) scale(1.0636 1)"><tspan>CH</tspan><tspan font-size="18" dy="6">3</tspan><tspan dy="-6">(s)</tspan></text><text id="eq_2_2" class="eq" transform="translate(256.33 226.90) scale(1.0634 1)"><tspan>O(s)</tspan></text><text id="eq_2_4" class="eq" transform="translate(331.47 226.90) scale(1.0636 1)"><tspan>CH</tspan><tspan font-size="18" dy="6">2</tspan><tspan dy="-6">(s)</tspan></text><text id="eq_2_6" class="eq" transform="translate(432.09 226.90) scale(1.0935 1)"><tspan>OH(s)</tspan></text><text id="eq_3_0" class="eq" transform="translate(521.47 299.50) scale(1.0636 1)"><tspan>CH</tspan><tspan font-size="18" dy="6">3</tspan><tspan dy="-6">(s)</tspan></text><text id="eq_3_2" class="eq" transform="translate(623.72 299.50) scale(1.0849 1)"><tspan>OH(s)</tspan></text><text id="eq_3_4" class="eq" transform="translate(719.16 299.50) scale(1.0622 1)"><tspan>CH</tspan><tspan font-size="18" dy="6">4</tspan><tspan dy="-6">(s)</tspan></text><text id="eq_3_6" class="eq" transform="translate(819.93 299.50) scale(1.1001 1)"><tspan>O(s)</tspan></text><text id="eq_4_0" class="eq" transform="translate(160.47 376.40) scale(1.0636 1)"><tspan>CH</tspan><tspan font-size="18" dy="6">4</tspan><tspan dy="-6">(s)</tspan></text><text id="eq_4_2" class="eq" transform="translate(263.32 376.40) scale(1.0750 1)"><tspan>O(s)</tspan></text><text id="eq_4_4" class="eq" transform="translate(338.25 376.40) scale(1.0742 1)"><tspan>CH</tspan><tspan font-size="18" dy="6">3</tspan><tspan dy="-6">(s)</tspan></text><text id="eq_4_6" class="eq" transform="translate(440.50 376.40) scale(1.0930 1)"><tspan>OH(s)</tspan></text><text id="eq_5_0" class="eq" transform="translate(170.47 449.80) scale(1.0636 1)"><tspan>CH</tspan><tspan font-size="18" dy="6">3</tspan><tspan dy="-6">(s)</tspan></text><text id="eq_5_2" class="eq" transform="translate(272.70 449.80) scale(1.0752 1)"><tspan>Ni(s)</tspan></text><text id="eq_5_4" class="eq" transform="translate(355.11 449.80) scale(1.0757 1)"><tspan>CH</tspan><tspan font-size="18" dy="6">2</tspan><tspan dy="-6">(s)</tspan></text><text id="eq_5_6" class="eq" transform="translate(457.27 449.80) scale(1.0941 1)"><tspan>H(s)</tspan></text><text id="eq_6_0" class="eq" transform="translate(173.47 522.80) scale(1.0636 1)"><tspan>CH</tspan><tspan font-size="18" dy="6">4</tspan><tspan dy="-6">(s)</tspan></text><text id="eq_6_2" class="eq" transform="translate(275.05 522.80) scale(1.0783 1)"><tspan>Ni(s)</tspan></text><text id="eq_6_4" class="eq" transform="translate(358.32 522.80) scale(1.0772 1)"><tspan>CH</tspan><tspan font-size="18" dy="6">3</tspan><tspan dy="-6">(s)</tspan></text><text id="eq_6_6" class="eq" transform="translate(460.02 522.80) scale(1.0979 1)"><tspan>H(s)</tspan></text><text id="eq_7_0" class="eq" transform="translate(178.90 605.10) scale(1.0915 1)"><tspan>H(s)</tspan></text><text id="eq_7_2" class="eq" transform="translate(254.73 605.10) scale(1.0719 1)"><tspan>OH(s)</tspan></text><text id="eq_7_4" class="eq" transform="translate(348.05 605.10) scale(1.0741 1)"><tspan>H</tspan><tspan font-size="18" dy="6">2</tspan><tspan dy="-6">O(s)</tspan></text><text id="eq_7_6" class="eq" transform="translate(451.24 605.10) scale(1.0953 1)"><tspan>Ni(s)</tspan></text><text id="eq_8_0" class="eq" transform="translate(207.93 694.80) scale(1.0800 1)"><tspan>OH(s)</tspan></text><text id="eq_8_2" class="eq" transform="translate(301.74 694.80) scale(1.0897 1)"><tspan>Ni(s)</tspan></text><text id="eq_8_4" class="eq" transform="translate(384.67 694.80) scale(1.1153 1)"><tspan>H(s)</tspan></text><text id="eq_8_6" class="eq" transform="translate(460.43 694.80) scale(1.0952 1)"><tspan>O(s)</tspan></text><text id="eq_9_0" class="eq" transform="translate(526.68 774.30) scale(1.0968 1)"><tspan>H(s)</tspan></text><text id="eq_9_2" class="eq" transform="translate(602.49 774.30) scale(1.0964 1)"><tspan>O(s)</tspan></text><text id="eq_9_4" class="eq" transform="translate(677.25 774.30) scale(1.0750 1)"><tspan>OH(s)</tspan></text><text id="eq_9_6" class="eq" transform="translate(770.69 774.30) scale(1.0933 1)"><tspan>Ni(s)</tspan></text><text id="eq_10_0" class="eq" transform="translate(273.97 846.90) scale(1.0707 1)"><tspan>H</tspan><tspan font-size="18" dy="6">2</tspan><tspan dy="-6">O(s)</tspan></text><text id="eq_10_2" class="eq" transform="translate(377.72 846.90) scale(1.0590 1)"><tspan>H</tspan><tspan font-size="18" dy="6">2</tspan><tspan dy="-6">O</tspan></text><text id="eq_10_4" class="eq" transform="translate(452.69 846.90) scale(1.0893 1)"><tspan>Ni(s)</tspan></text><text id="eq_11_0" class="eq" transform="translate(528.47 918.30) scale(1.0636 1)"><tspan>CH</tspan><tspan font-size="18" dy="6">4</tspan><tspan dy="-6">(s)</tspan></text><text id="eq_11_2" class="eq" transform="translate(631.13 918.30) scale(1.0641 1)"><tspan>CH</tspan><tspan font-size="18" dy="6">4</tspan></text><text id="eq_11_4" class="eq" transform="translate(704.27 918.30) scale(1.0890 1)"><tspan>Ni(s)</tspan></text><text id="tk_0" class="tk" transform="translate(15.85 994.70) scale(1.1064 1)">-10</text><text id="tk_2" class="tk" transform="translate(119.89 994.70) scale(1.0812 1)">-8</text><text id="tk_4" class="tk" transform="translate(213.82 994.70) scale(1.1380 1)">-6</text><text id="tk_6" class="tk" transform="translate(311.21 994.70) scale(1.1108 1)">-4</text><text id="tk_8" class="tk" transform="translate(407.43 994.70) scale(1.1033 1)">-2</text><text id="tk_10" class="tk" transform="translate(507.77 994.70) scale(1.0802 1)">0</text><text id="tk_12" class="tk" transform="translate(603.85 994.70) scale(1.2215 1)">2</text><text id="tk_14" class="tk" transform="translate(699.91 994.70) scale(1.1890 1)">4</text><text id="tk_16" class="tk" transform="translate(796.36 994.70) scale(1.2364 1)">6</text><text id="tk_18" class="tk" transform="translate(892.02 994.70) scale(1.1230 1)">8</text><text id="tk_20" class="tk" transform="translate(981.67 994.70) scale(1.1314 1)">10</text><text id="tt" class="tt" transform="translate(372.49 1041.90) scale(1.0213 1)">Sensitivity coefficients</text><text id="lg_DR" class="lg" transform="translate(917.16 70.30) scale(0.9362 1)">DR</text><text id="lg_SR" class="lg" transform="translate(916.14 124.30) scale(0.8320 1)">SR</text><text id="lg_CPOx" class="lg" transform="translate(917.07 178.60) scale(0.9090 1)">CPOx</text></svg></body></html>
